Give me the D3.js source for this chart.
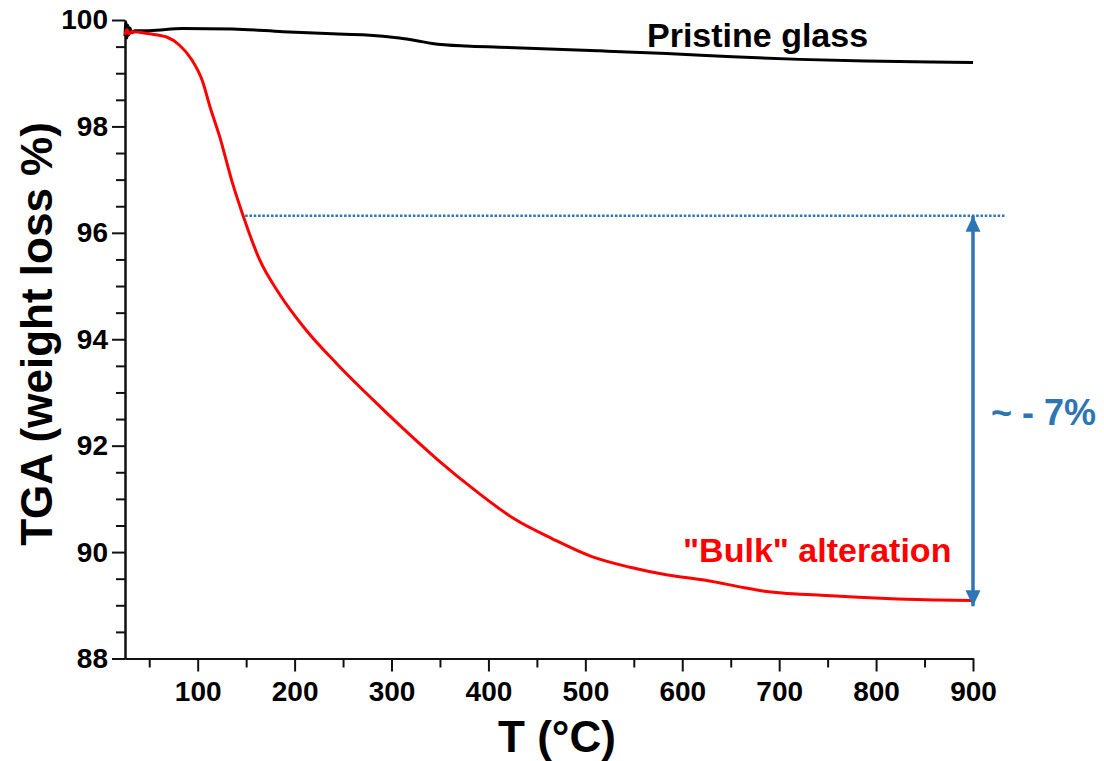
<!DOCTYPE html>
<html>
  <head>
    <meta charset="utf-8">
    <title>TGA</title>
    <script src="https://d3js.org/d3.v7.min.js"></script>
    <style>
      body { margin: 0; background: #fff; }
      svg { font-family: Arial, "Liberation Sans", sans-serif; font-weight: bold; }
    </style>
  </head>
  <body>
    <div id="chart"></div>
    <script>
      // temperature (°C) / weight (%)
      const pristineT = [25, 26, 27, 28, 29, 30, 32, 35, 50, 84, 136, 188, 239, 274, 308, 326, 342, 377, 411, 515, 584, 652, 721, 790, 858, 900];
      const pristineW = [99.70, 99.95, 99.66, 99.90, 99.72, 99.85, 99.76, 99.80, 99.80, 99.84, 99.83, 99.78, 99.74, 99.72, 99.66, 99.61, 99.56, 99.51, 99.49, 99.42, 99.37, 99.31, 99.26, 99.23, 99.21, 99.20];

      const bulkT = [25, 27, 29, 32, 50, 68, 81, 94, 105, 113, 122, 136, 146, 164, 184, 212, 243, 281, 308, 348, 387, 427, 466, 506, 545, 585, 624, 664, 683, 703, 743, 782, 822, 861, 900];
      const bulkW = [99.72, 99.82, 99.74, 99.78, 99.74, 99.68, 99.53, 99.25, 98.85, 98.35, 97.85, 96.93, 96.37, 95.49, 94.86, 94.17, 93.55, 92.86, 92.39, 91.73, 91.15, 90.62, 90.25, 89.92, 89.72, 89.57, 89.47, 89.33, 89.27, 89.23, 89.19, 89.15, 89.12, 89.10, 89.09];

      const xTicks = [100, 200, 300, 400, 500, 600, 700, 800, 900];
      const xMinor = [50, 150, 250, 350, 450, 550, 650, 750, 850];
      const yTicks = [88, 90, 92, 94, 96, 98, 100];
      const yMinor = d3.range(88, 100.01, 0.5).filter(v => v % 2 !== 0);

      // annotation: dotted level and the arrow span
      const levelW = 96.32;
      const levelT = [149, 933];
      const arrowT = 900;
      const arrowW = [96.32, 88.98];

      const width = 1104, height = 761;
      const blue = "#2e75b6";

      const svg = d3.select("#chart").append("svg")
        .attr("width", width)
        .attr("height", height);

      const x = d3.scaleLinear().domain([25, 900]).range([125, 973]);
      const y = d3.scaleLinear().domain([88, 100]).range([658.5, 20]);

      // axes
      const yAxis = svg.append("g").attr("transform", "translate(125,0)");
      yAxis.call(d3.axisLeft(y).tickValues(yMinor).tickSize(9).tickSizeOuter(0).tickFormat(""));
      yAxis.append("g").call(d3.axisLeft(y).tickValues(yTicks).tickSize(13).tickSizeOuter(0).tickPadding(4));

      const xAxis = svg.append("g").attr("transform", "translate(0,658.5)");
      xAxis.call(d3.axisBottom(x).tickValues(xMinor).tickSize(9).tickSizeOuter(0).tickFormat(""));
      xAxis.append("g").call(d3.axisBottom(x).tickValues(xTicks).tickSize(13).tickSizeOuter(0).tickPadding(10));

      svg.selectAll(".domain, .tick line").attr("stroke", "#111").attr("stroke-width", 2);
      svg.selectAll(".tick text")
        .attr("fill", "#000")
        .style("font-size", "28px")
        .style("font-weight", "bold");

      // axis titles
      svg.append("text")
        .attr("transform", "translate(52,334) rotate(-90)")
        .attr("text-anchor", "middle")
        .style("font-size", "44px")
        .text("TGA (weight loss %)");

      svg.append("text")
        .attr("x", 557).attr("y", 752)
        .attr("text-anchor", "middle")
        .style("font-size", "44px")
        .text("T (°C)");

      // curves
      const line = d3.line()
        .x(d => x(d[0]))
        .y(d => y(d[1]))
        .curve(d3.curveMonotoneX);

      svg.append("path")
        .datum(pristineT.map((t, i) => [t, pristineW[i]]))
        .attr("d", line)
        .attr("fill", "none")
        .attr("stroke", "#000")
        .attr("stroke-width", 3);

      svg.append("path")
        .datum(bulkT.map((t, i) => [t, bulkW[i]]))
        .attr("d", line)
        .attr("fill", "none")
        .attr("stroke", "#ff0000")
        .attr("stroke-width", 3);

      // dotted level line
      svg.append("line")
        .attr("x1", x(levelT[0])).attr("x2", x(levelT[1]))
        .attr("y1", y(levelW)).attr("y2", y(levelW))
        .attr("stroke", blue)
        .attr("stroke-width", 2.5)
        .attr("stroke-dasharray", "2.5,1.8");

      // double arrow
      const defs = svg.append("defs");
      defs.append("marker")
        .attr("id", "head")
        .attr("viewBox", "0 0 16 16")
        .attr("refX", 16).attr("refY", 8)
        .attr("markerWidth", 16).attr("markerHeight", 16)
        .attr("markerUnits", "userSpaceOnUse")
        .attr("orient", "auto-start-reverse")
        .append("path")
        .attr("d", "M0,0.5 L16,8 L0,15.5 Z")
        .attr("fill", blue);

      svg.append("line")
        .attr("x1", x(arrowT)).attr("x2", x(arrowT))
        .attr("y1", y(arrowW[0])).attr("y2", y(arrowW[1]))
        .attr("stroke", blue)
        .attr("stroke-width", 3.5)
        .attr("marker-start", "url(#head)")
        .attr("marker-end", "url(#head)");

      // labels
      svg.append("text")
        .attr("x", 647).attr("y", 47)
        .style("font-size", "34px")
        .attr("fill", "#000")
        .text("Pristine glass");

      svg.append("text")
        .attr("x", 683).attr("y", 562)
        .style("font-size", "34px")
        .attr("fill", "#ff0000")
        .text("\"Bulk\" alteration");

      svg.append("text")
        .attr("x", 991).attr("y", 425)
        .style("font-size", "36px")
        .attr("fill", blue)
        .text("~ - 7%");
    </script>
  </body>
</html>
